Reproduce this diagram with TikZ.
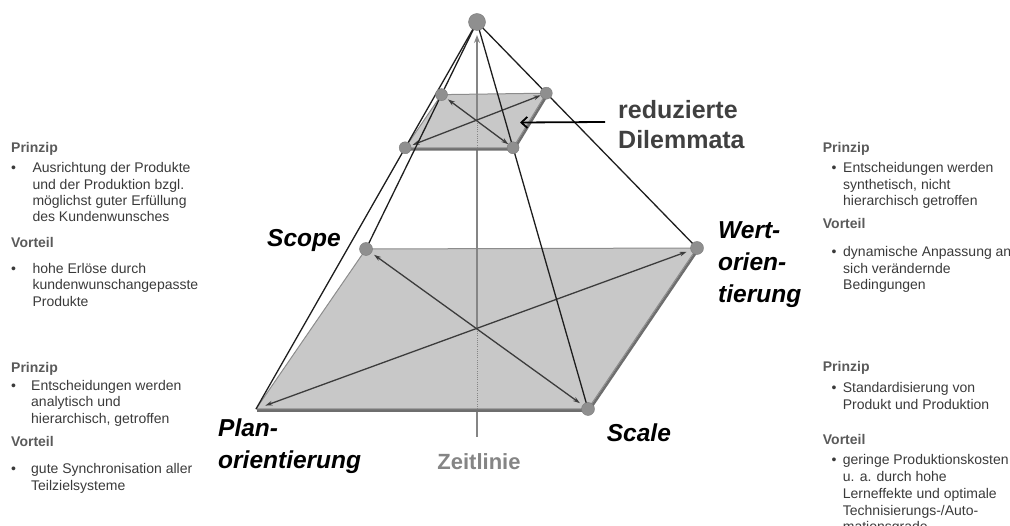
\documentclass[tikz,border=0pt]{standalone}
\usepackage{fontspec}
\setmainfont{Liberation Sans}
\usetikzlibrary{arrows.meta,calc}
\definecolor{planefill}{HTML}{C8C8C8}
\definecolor{planeedge}{HTML}{8C8C8C}
\definecolor{planeshadow}{HTML}{6E6E6E}
\definecolor{dotgray}{HTML}{8F8F8F}
\definecolor{diag}{HTML}{3C3C3C}
\definecolor{axisgray}{HTML}{858585}
\definecolor{bodytxt}{HTML}{3A3A3A}
\definecolor{headtxt}{HTML}{5A5A5A}
\definecolor{redtxt}{HTML}{404040}
\definecolor{edgecol}{HTML}{1E1E1E}
\begin{document}
\begin{tikzpicture}[x=1pt,y=-1pt,
  body/.style={font=\fontsize{14}{16}\selectfont,text=bodytxt,anchor=base west,inner sep=0pt},
  head/.style={body,font=\fontsize{14}{16}\selectfont\bfseries,text=headtxt},
  big/.style={font=\fontsize{24.5}{30}\selectfont\bfseries\itshape,anchor=base west,inner sep=0pt},
  redlab/.style={font=\fontsize{25}{30}\selectfont\bfseries,text=redtxt,anchor=base west,inner sep=0pt},
  timelab/.style={font=\fontsize{22}{26}\selectfont\bfseries,text=axisgray,anchor=base,inner sep=0pt},
  dot/.style={circle,fill=dotgray,draw=dotgray!85!black,line width=0.4pt,inner sep=0pt,minimum size=12pt},
  plane/.style={fill=planefill,draw=planeedge,line width=1pt,line join=round},
  shadow/.style={planeshadow,line width=2.6pt,line join=round},
  diagarrow/.style={diag,line width=1.3pt,{Stealth[length=7pt,width=4.5pt]}-{Stealth[length=7pt,width=4.5pt]}},
  axis/.style={axisgray,line width=1.6pt},
  axisdot/.style={axisgray,line width=1pt,dash pattern=on 1pt off 1.2pt},
  edge/.style={edgecol,line width=1.3pt},
  callout/.style={black,line width=1.8pt,-{Straight Barb[length=6pt,width=11pt]}}
]
\useasboundingbox (0,0) rectangle (1010,526);
% --- geometry
\coordinate (A) at (477,22);
\coordinate (LTL) at (366,249);
\coordinate (LTR) at (697,248);
\coordinate (LBR) at (588,409);
\coordinate (LBL) at (256,409);
\coordinate (STL) at ($(A)!0.32!(LTL)$);
\coordinate (STR) at ($(A)!0.315!(LTR)$);
\coordinate (SBR) at ($(A)!0.325!(LBR)$);
\coordinate (SBL) at ($(A)!0.325!(LBL)$);
\coordinate (Z0) at (477,437);
\coordinate (Z1) at (477,409);
\coordinate (LC) at (477,329);
\coordinate (Z2) at (477,147.8);
\coordinate (SC) at (477,121.2);
\coordinate (Ztip) at (477,35);
% --- axis below large plane
\draw[axis] (Z0) -- (Z1);
% --- large plane
\draw[shadow] ([shift={(1,1.5)}]LBL) -- ([shift={(1,1.5)}]LBR) -- ([shift={(1,1.5)}]LTR);
\draw[plane] (LBL) -- (LBR) -- (LTR) -- (LTL) -- cycle;
\draw[axisdot] (Z1) -- (LC);
\draw[axis] (LC) -- (Z2);
\draw[diagarrow,shorten <=10pt,shorten >=10pt] (LTL) -- (LBR);
\draw[diagarrow,shorten <=10pt,shorten >=11pt] (LBL) -- (LTR);
% --- small plane
\draw[shadow] ([shift={(1,1.5)}]SBL) -- ([shift={(1,1.5)}]SBR) -- ([shift={(1,1.5)}]STR);
\draw[plane] (SBL) -- (SBR) -- (STR) -- (STL) -- cycle;
\draw[axisdot] (Z2) -- (SC);
\draw[axis,-{Stealth[length=8pt,width=6pt]}] (SC) -- (Ztip);
\draw[diagarrow,shorten <=8pt,shorten >=6pt] (STL) -- (SBR);
\draw[diagarrow,shorten <=8pt,shorten >=6pt] (SBL) -- (STR);
% --- pyramid edges
\draw[edge] (A) -- (LTL);
\draw[edge] (A) -- (LBL);
\draw[edge] (A) -- (LBR);
\draw[edge] (A) -- (LTR);
% --- dots
\node[dot,minimum size=17pt] (dA) at (A) {};
\node[dot,minimum size=13pt] (dLTL) at (LTL) {};
\node[dot,minimum size=13pt] (dLTR) at (LTR) {};
\node[dot,minimum size=13pt] (dLBR) at (LBR) {};
\node[dot] (dSTL) at (STL) {};
\node[dot] (dSTR) at (STR) {};
\node[dot] (dSBR) at (SBR) {};
\node[dot] (dSBL) at (SBL) {};
% --- labels
\node[big] (scope) at (267,247) {Scope};
\node[big] (wert1) at (718,238.8) {Wert-};
\node[big] (wert2) at (718,270.8) {orien-};
\node[big] (wert3) at (718,302.8) {tierung};
\node[big] (plan1) at (218,437) {Plan-};
\node[big] (plan2) at (218,469) {orientierung};
\node[big] (scale) at (606.7,442) {Scale};
\node[redlab] (red1) at (618,118.3) {reduzierte};
\node[redlab] (red2) at (618,148.3) {Dilemmata};
\node[timelab] (zeit) at (479,469.3) {Zeitlinie};
\coordinate (arrS) at (605,122);
\coordinate (arrE) at (520,122.5);
\draw[callout] (arrS) -- (arrE);
% --- left top block
\node[head] (lth1) at (11,153) {Prinzip};
\node[body] (ltb1) at (11,172.7) {•};
\node[body] (ltl1) at (32.3,172.7) {Ausrichtung der Produkte};
\node[body] (ltl2) at (32.3,189.3) {und der Produktion bzgl.};
\node[body] (ltl3) at (32.3,205.7) {möglichst guter Erfüllung};
\node[body] (ltl4) at (32.3,222) {des Kundenwunsches};
\node[head] (lth2) at (11,247.3) {Vorteil};
\node[body] (ltb2) at (11,273.3) {•};
\node[body] (ltl5) at (32.3,273.3) {hohe Erlöse durch};
\node[body] (ltl6) at (32.3,290) {kundenwunschangepasste};
\node[body] (ltl7) at (32.3,306.3) {Produkte};
% --- left bottom block
\node[head] (lbh1) at (11,372.7) {Prinzip};
\node[body] (lbb1) at (11,390.7) {•};
\node[body] (lbl1) at (31,390.7) {Entscheidungen werden};
\node[body] (lbl2) at (31,406.7) {analytisch und};
\node[body] (lbl3) at (31,423.3) {hierarchisch, getroffen};
\node[head] (lbh2) at (11,446.7) {Vorteil};
\node[body] (lbb2) at (11,474) {•};
\node[body] (lbl4) at (31,474) {gute Synchronisation aller};
\node[body] (lbl5) at (31,490) {Teilzielsysteme};
% --- right top block
\node[head] (rth1) at (822.7,152.7) {Prinzip};
\node[body] (rtb1) at (831.5,172.7) {•};
\node[body] (rtl1) at (843,172.7) {Entscheidungen werden};
\node[body] (rtl2) at (843,189.3) {synthetisch, nicht};
\node[body] (rtl3) at (843,206) {hierarchisch getroffen};
\node[head] (rth2) at (822.7,228.3) {Vorteil};
\node[body] (rtb2) at (831.5,256.7) {•};
\node[body] (rtl4) at (843,256.7) {dynamische Anpassung an};
\node[body] (rtl5) at (843,273.3) {sich verändernde};
\node[body] (rtl6) at (843,290) {Bedingungen};
% --- right bottom block
\node[head] (rbh1) at (822.7,371.7) {Prinzip};
\node[body] (rbb1) at (831.5,392.7) {•};
\node[body] (rbl1) at (842.7,392.7) {Standardisierung von};
\node[body] (rbl2) at (842.7,410) {Produkt und Produktion};
\node[head] (rbh2) at (822.7,445) {Vorteil};
\node[body] (rbb2) at (831.5,465) {•};
\node[body] (rbl3) at (842.7,465) {geringe Produktionskosten};
\node[body] (rbl4) at (842.7,481.7) {u. a. durch hohe};
\node[body] (rbl5) at (842.7,498.3) {Lerneffekte und optimale};
\node[body] (rbl6) at (842.7,515.7) {Technisierungs-/Auto-};
\node[body] (rbl7) at (842.7,531.7) {mationsgrade};
\end{tikzpicture}
\end{document}
